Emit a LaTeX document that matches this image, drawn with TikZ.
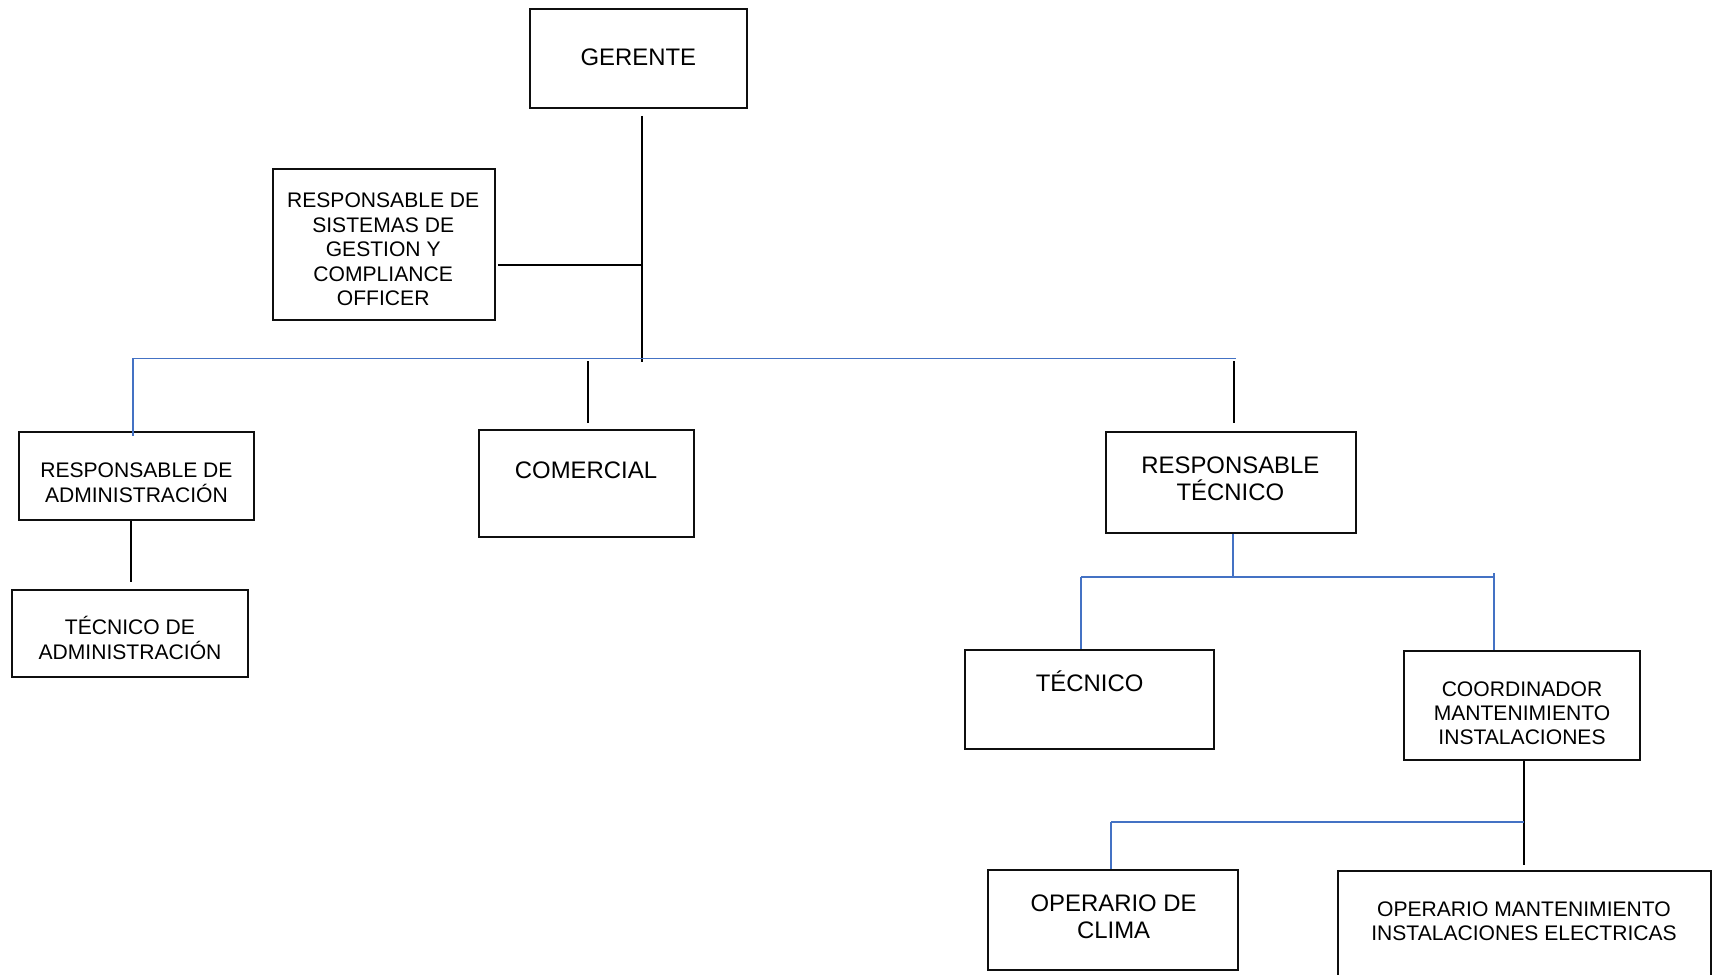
\documentclass[tikz,border=0pt]{standalone}
\usepackage{fontspec}
\setmainfont{Liberation Sans}
\usepackage{xcolor}
\definecolor{colLink}{RGB}{68, 114, 196}
\definecolor{boxBorder}{RGB}{15, 15, 15}
\definecolor{darkText}{RGB}{0, 0, 0}

\begin{document}
\begin{tikzpicture}

  % Page frame (1 px of the sheet = 0.025 cm)
  \useasboundingbox (0,0) rectangle (42.8,-24.35);

  % Helper styles for the chart
  \tikzset{
    post/.style={
      draw=boxBorder,
      line width=1.4pt,
      inner sep=0pt
    },
    bigtxt/.style={
      font=\fontsize{17}{19.4}\selectfont,
      text=darkText,
      align=center
    },
    smalltxt/.style={
      font=\fontsize{15}{17.4}\selectfont,
      text=darkText,
      align=center
    },
    solidlink/.style={draw=black, line width=1.4pt},
    bluelink/.style={draw=colLink, line width=1.1pt}
  }

  % --- Boxes ---
  \node[post, minimum width=5.43cm, minimum height=2.48cm] (gerente)   at (15.96, -1.46) {};
  \node[post, minimum width=5.55cm, minimum height=3.78cm] (sistemas)  at ( 9.60, -6.11) {};
  \node[post, minimum width=5.88cm, minimum height=2.20cm] (radmin)    at ( 3.41,-11.90) {};
  \node[post, minimum width=5.90cm, minimum height=2.18cm] (tadmin)    at ( 3.25,-15.84) {};
  \node[post, minimum width=5.38cm, minimum height=2.68cm] (comercial) at (14.66,-12.09) {};
  \node[post, minimum width=6.25cm, minimum height=2.53cm] (rtecnico)  at (30.78,-12.06) {};
  \node[post, minimum width=6.23cm, minimum height=2.48cm] (tecnico)   at (27.24,-17.49) {};
  \node[post, minimum width=5.90cm, minimum height=2.73cm] (coord)     at (38.05,-17.64) {};
  \node[post, minimum width=6.25cm, minimum height=2.50cm] (clima)     at (27.83,-23.00) {};
  % runs past the lower edge of the sheet
  \node[post, minimum width=9.33cm, minimum height=3.23cm] (opman)     at (38.11,-23.39) {};

  % --- Texts ---
  \node[bigtxt]   (gerente-t)   at (15.96, -1.44) {GERENTE};
  \node[smalltxt] (sistemas-t)  at ( 9.58, -6.24) {RESPONSABLE DE\\SISTEMAS DE\\GESTION Y\\COMPLIANCE\\OFFICER};
  \node[smalltxt] (radmin-t)    at ( 3.41,-12.07) {RESPONSABLE DE\\ADMINISTRACIÓN};
  \node[smalltxt] (tadmin-t)    at ( 3.25,-15.95) {TÉCNICO DE\\ADMINISTRACIÓN};
  \node[bigtxt]   (comercial-t) at (14.65,-11.76) {COMERCIAL};
  \node[bigtxt]   (rtecnico-t)  at (30.76,-11.96) {RESPONSABLE\\TÉCNICO};
  \node[bigtxt]   (tecnico-t)   at (27.24,-17.03) {TÉCNICO};
  \node[smalltxt] (coord-t)     at (38.05,-17.83) {COORDINADOR\\MANTENIMIENTO\\INSTALACIONES};
  \node[bigtxt]   (clima-t)     at (27.84,-22.92) {OPERARIO DE\\CLIMA};
  \node[smalltxt] (opman-t)     at (38.10,-23.03) {OPERARIO MANTENIMIENTO\\INSTALACIONES ELECTRICAS};

  % --- Junction points ---
  \coordinate (gj)    at (16.05, -9.05);
  \coordinate (trunkL) at ( 3.325,-8.96);
  \coordinate (trunkR) at (30.90, -8.96);
  \coordinate (tj)    at (30.825,-14.425);
  \coordinate (tjL)   at (27.025,-14.425);
  \coordinate (tjR)   at (37.35, -14.425);
  \coordinate (cj)    at (38.10, -20.55);
  \coordinate (cjL)   at (27.775,-20.55);

  % --- Connectors, first level ---
  \draw[solidlink] (gj |- gerente.south) ++(0,-0.175) -- (gj);
  \draw[solidlink] ([xshift=0.05cm, yshift=-0.515cm]sistemas.east) -- ++(3.625,0);
  \draw[bluelink]  (trunkL) -- (trunkR);
  \draw[bluelink]  (trunkL) -- ([yshift=-0.125cm]trunkL |- radmin.north);
  \draw[solidlink] ([xshift=0.04cm]comercial.north) ++(0,0.15) -- ++(0,1.55);
  \draw[solidlink] ([xshift=0.07cm]rtecnico.north) ++(0,0.2) -- ++(0,1.55);
  \draw[solidlink] ([xshift=-0.135cm]radmin.south) -- ([xshift=-0.135cm, yshift=0.175cm]radmin.south |- tadmin.north);

  % --- Connectors under RESPONSABLE TECNICO ---
  \draw[bluelink] ([xshift=0.045cm]rtecnico.south) -- (tj);
  \draw[bluelink] (tjL) -- (tjR);
  \draw[bluelink] (tjL) -- (tjL |- tecnico.north);
  \draw[bluelink] ([yshift=0.1cm]tjR) -- (tjR |- coord.north);

  % --- Connectors under COORDINADOR ---
  \draw[solidlink] (cj |- coord.south) -- ([yshift=0.125cm]cj |- opman.north);
  \draw[bluelink]  (cjL) -- (cj);
  \draw[bluelink]  (cjL) -- (cjL |- clima.north);

\end{tikzpicture}
\end{document}
